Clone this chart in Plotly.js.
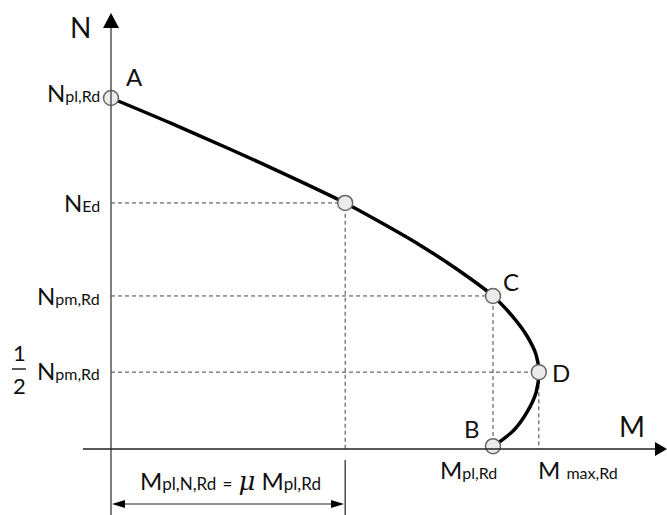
<!DOCTYPE html>
<html>
<head>
<meta charset="utf-8">
<script src="https://cdn.plot.ly/plotly-3.0.1.min.js"></script>
<style>
  html, body { margin: 0; padding: 0; background: #fff; }
  #chart { width: 667px; height: 515px; }
</style>
</head>
<body>
<div id="chart"></div>
<script>
// Interaction curve, M in units of Mpl,Rd and N in units of Npl,Rd
const curveM = [0, 0.155, 0.312, 0.469, 0.613, 0.709, 0.806, 0.903, 1.0, 1.050, 1.089, 1.113, 1.120, 1.113, 1.089, 1.055, 1.013];
const curveN = [1.0, 0.929, 0.854, 0.776, 0.701, 0.6439, 0.5829, 0.5142, 0.436, 0.379, 0.322, 0.268, 0.219, 0.162, 0.105, 0.054, 0.017];

// Marked points on the curve
const pointNames = ['A', 'NEd', 'C', 'D', 'B'];
const pointM = [0, 0.613, 1.0, 1.12, 1.0];
const pointN = [1.0, 0.701, 0.436, 0.219, 0.008];

// Points that get dashed guide lines to the axes
const guideNames = ['NEd', 'C', 'D'];

// Axis labels
const nTickVals = [1.0, 0.701, 0.436, 0.219];
const nTickText = [
    'N<span style="font-size:16px">pl,Rd</span>',
    'N<span style="font-size:16px">Ed</span>',
    'N<span style="font-size:16px">pm,Rd</span>',
    'N<span style="font-size:16px">pm,Rd</span>'
];
const mTickVals = [1.0, 1.12];
const mTickText = [
    'M<span style="font-size:16px">pl,Rd</span>',
    'M <span style="font-size:16px">max,Rd</span>'
];
const dimText = 'M<span style="font-size:17px">pl,N,Rd</span> <span style="font-size:17px">=</span> ' +
    '<span style="font-family:DejaVu Serif;font-size:26px"><i>μ</i></span> M<span style="font-size:17px">pl,Rd</span>';

// pixel -> data helpers for decoration geometry
const X = p => (p - 111) / 382;
const Y = p => (449 - p) / 351;

const textColor = '#111';
const fontFamily = 'Lato, "Open Sans", "Liberation Sans", sans-serif';

// Guide lines
const guideX = [], guideY = [];
guideNames.forEach(name => {
    const i = pointNames.indexOf(name);
    guideX.push(0, pointM[i], pointM[i], null);
    guideY.push(pointN[i], pointN[i], 0, null);
});

const traces = [
    {
        x: guideX, y: guideY,
        type: 'scatter', mode: 'lines',
        line: { color: '#444', width: 1, dash: '4px,3px' },
        hoverinfo: 'skip'
    },
    {
        x: curveM, y: curveN,
        type: 'scatter', mode: 'lines',
        line: { color: '#000', width: 3.5, shape: 'spline', smoothing: 0.8 },
        hoverinfo: 'skip'
    },
    {
        x: pointM, y: pointN,
        type: 'scatter', mode: 'markers',
        marker: { size: 15, color: '#ebebeb', line: { color: '#666', width: 1.5 } },
        hoverinfo: 'skip'
    }
];

const shapes = [
    // N axis
    { type: 'line', x0: 0, x1: 0, y0: Y(515), y1: Y(27), line: { color: '#555', width: 1.5 } },
    { type: 'path', path: `M ${X(111)} ${Y(13)} L ${X(103)} ${Y(28)} L ${X(119)} ${Y(28)} Z`,
      fillcolor: '#000', line: { width: 0 } },
    // M axis
    { type: 'line', x0: X(83), x1: X(657), y0: 0, y1: 0, line: { color: '#222', width: 1.5 } },
    { type: 'path', path: `M ${X(667)} ${Y(449)} L ${X(655)} ${Y(442)} L ${X(655)} ${Y(456)} Z`,
      fillcolor: '#000', line: { width: 0 } },
    // fraction bar for 1/2
    { type: 'line', x0: X(12), x1: X(26), y0: Y(369), y1: Y(369), line: { color: '#222', width: 1.5 } },
    // dimension line for Mpl,N,Rd
    { type: 'line', x0: pointM[1], x1: pointM[1], y0: Y(460), y1: Y(515), line: { color: '#222', width: 1.2 } },
    { type: 'line', x0: X(120), x1: X(336), y0: Y(504), y1: Y(504), line: { color: '#222', width: 1.2 } },
    { type: 'path', path: `M ${X(112)} ${Y(504)} L ${X(125)} ${Y(500)} L ${X(125)} ${Y(508)} Z`,
      fillcolor: '#000', line: { width: 0 } },
    { type: 'path', path: `M ${X(344)} ${Y(504)} L ${X(331)} ${Y(500)} L ${X(331)} ${Y(508)} Z`,
      fillcolor: '#000', line: { width: 0 } }
];

const annotations = [];
const addText = (x, y, text, opts) => annotations.push(Object.assign({
    x, y, text, xref: 'x', yref: 'y', showarrow: false,
    font: { size: 24, color: textColor }
}, opts || {}));

// N labels on the left
const nShift = [6, 0, 0, 2];
nTickVals.forEach((v, i) => addText(X(102), v, nTickText[i], { xanchor: 'right', yanchor: 'middle', yshift: nShift[i] }));
addText(X(19), Y(352), '1', { font: { size: 22, color: textColor } });
addText(X(19), Y(385), '2', { font: { size: 22, color: textColor } });

// M labels below the axis
addText(mTickVals[0], Y(469), mTickText[0], { xanchor: 'right', xshift: 6 });
addText(mTickVals[1], Y(469), mTickText[1], { xanchor: 'left', xshift: -3 });

// Point letters
addText(X(134), Y(76), 'A');
addText(X(511), Y(281), 'C');
addText(X(561), Y(372), 'D');
addText(X(472), Y(428), 'B');

// Axis names
addText(X(80), Y(27), 'N', { font: { size: 28, color: textColor } });
addText(X(632), Y(426), 'M', { font: { size: 28, color: textColor } });

// Dimension text
addText((0 + pointM[1]) / 2, Y(481), dimText, { xshift: 2 });

const layout = {
    width: 667,
    height: 515,
    margin: { l: 0, r: 0, t: 0, b: 0 },
    paper_bgcolor: '#fff',
    plot_bgcolor: '#fff',
    showlegend: false,
    font: { family: fontFamily, color: textColor },
    xaxis: { range: [X(0), X(667)], visible: false, fixedrange: true },
    yaxis: { range: [Y(515), Y(0)], visible: false, fixedrange: true },
    shapes,
    annotations
};

Plotly.newPlot('chart', traces, layout, { staticPlot: true, displayModeBar: false });
</script>
</body>
</html>
